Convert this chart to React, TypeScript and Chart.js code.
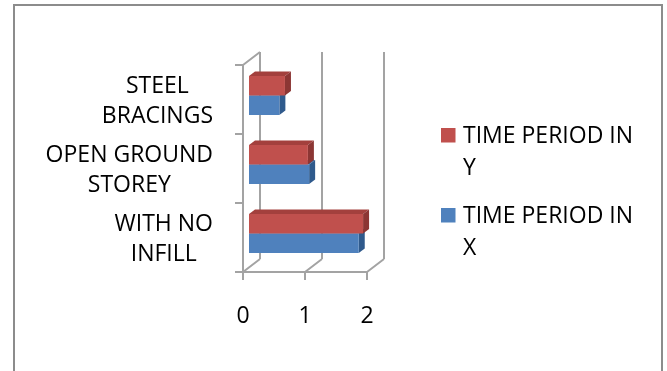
import { useEffect, useRef } from "react";
import { Chart, registerables } from "chart.js";

Chart.register(...registerables);

// ---- data ----
const categories: string[][] = [
  ["STEEL", "BRACINGS"],
  ["OPEN GROUND", "STOREY"],
  ["WITH NO", "INFILL"],
];
const seriesNames = ["TIME PERIOD IN Y", "TIME PERIOD IN X"];
const valuesY = [0.58, 0.95, 1.84];
const valuesX = [0.49, 0.97, 1.77];
const xTicks = [0, 1, 2];

// ---- styles ----
const frontColors = ["#C0504D", "#4F81BD"];
const topColors = ["#A3403D", "#3E6A9E"];
const sideColors = ["#8C3634", "#2F5A8C"];
const FONT = '23px "Open Sans"';
const LINE = "#A3A3A3";
const BAR_OFF = { dx: 6, dy: -4 };
const DEPTH = { dx: 6, dy: -4.5 };
const BACK = { dx: 17, dy: -13 };

function poly(ctx: CanvasRenderingContext2D, pts: number[][]) {
  ctx.beginPath();
  ctx.moveTo(pts[0][0], pts[0][1]);
  for (let i = 1; i < pts.length; i++) ctx.lineTo(pts[i][0], pts[i][1]);
  ctx.closePath();
  ctx.fill();
}

function wrap(ctx: CanvasRenderingContext2D, text: string, maxW: number) {
  const words = text.split(" ");
  const lines: string[] = [];
  let cur = "";
  for (const w of words) {
    const t = cur ? cur + " " + w : w;
    if (ctx.measureText(t).width > maxW && cur) {
      lines.push(cur);
      cur = w;
    } else cur = t;
  }
  if (cur) lines.push(cur);
  return lines;
}

const excel3d = {
  id: "excel3d",
  beforeDatasetsDraw(chart: any) {
    const ctx: CanvasRenderingContext2D = chart.ctx;
    const xs = chart.scales.x;
    const { left, top, bottom } = chart.chartArea;
    ctx.save();
    // outer border
    ctx.strokeStyle = "#8C8C8C";
    ctx.lineWidth = 2;
    ctx.strokeRect(14, 5, 648, 420);

    // walls and axes
    ctx.strokeStyle = LINE;
    ctx.lineWidth = 2;
    ctx.beginPath();
    xTicks.forEach((v) => {
      const px = xs.getPixelForValue(v);
      ctx.moveTo(px + BACK.dx, top + BACK.dy);
      ctx.lineTo(px + BACK.dx, bottom + BACK.dy);
      ctx.moveTo(px, bottom);
      ctx.lineTo(px + BACK.dx, bottom + BACK.dy);
      ctx.moveTo(px, bottom);
      ctx.lineTo(px, bottom + 8);
    });
    ctx.moveTo(left, top);
    ctx.lineTo(left, bottom);
    ctx.moveTo(left, top);
    ctx.lineTo(left + BACK.dx, top + BACK.dy);
    ctx.moveTo(left - 8, bottom);
    ctx.lineTo(xs.getPixelForValue(xTicks[xTicks.length - 1]), bottom);
    const n = categories.length;
    const band = (bottom - top) / n;
    for (let i = 0; i <= n; i++) {
      const y = top + i * band;
      ctx.moveTo(left - 8, y);
      ctx.lineTo(left, y);
    }
    ctx.stroke();

    // 3D faces of bars
    const nd = chart.data.datasets.length;
    for (let i = 0; i < n; i++) {
      for (let d = nd - 1; d >= 0; d--) {
        const el = chart.getDatasetMeta(d).data[i];
        const { x, y, base, height } = el.getProps(["x", "y", "base", "height"], true);
        const t = y - height / 2 + BAR_OFF.dy;
        const b = y + height / 2 + BAR_OFF.dy;
        const x0 = base + BAR_OFF.dx;
        const x1 = x + BAR_OFF.dx;
        ctx.fillStyle = topColors[d];
        poly(ctx, [
          [x0, t],
          [x1, t],
          [x1 + DEPTH.dx, t + DEPTH.dy],
          [x0 + DEPTH.dx, t + DEPTH.dy],
        ]);
        ctx.fillStyle = sideColors[d];
        poly(ctx, [
          [x1, t],
          [x1 + DEPTH.dx, t + DEPTH.dy],
          [x1 + DEPTH.dx, b + DEPTH.dy],
          [x1, b],
        ]);
      }
    }
    ctx.restore();
    ctx.save();
    ctx.translate(BAR_OFF.dx, BAR_OFF.dy);
  },
  afterDatasetsDraw(chart: any) {
    chart.ctx.restore();
  },
  afterDraw(chart: any) {
    const ctx: CanvasRenderingContext2D = chart.ctx;
    const xs = chart.scales.x;
    const ys = chart.scales.y;
    const { left, bottom } = chart.chartArea;
    ctx.save();
    ctx.font = FONT;
    ctx.fillStyle = "#000";
    ctx.textBaseline = "alphabetic";
    // x tick labels
    ctx.textAlign = "center";
    xTicks.forEach((v) => {
      ctx.fillText(String(v), xs.getPixelForValue(v), bottom + 51);
    });
    // category labels
    const lineH = 30;
    const capH = 16;
    categories.forEach((lines, i) => {
      const cy = ys.getPixelForValue(i);
      const widest = Math.max(...lines.map((l) => ctx.measureText(l).width));
      const cx = left - 30 - widest / 2;
      const blockH = (lines.length - 1) * lineH + capH;
      lines.forEach((l, k) => {
        ctx.fillText(l, cx, cy - blockH / 2 + capH + k * lineH + 0.5);
      });
    });
    // legend
    ctx.textAlign = "left";
    const lgX = 441;
    const firstBase = [142.5, 222.5];
    chart.data.datasets.forEach((ds: any, d: number) => {
      const lines = wrap(ctx, ds.label, 184);
      const b0 = firstBase[d];
      ctx.fillStyle = ds.backgroundColor;
      ctx.fillRect(lgX, b0 - 14.5, 14.5, 14.5);
      ctx.fillStyle = "#000";
      lines.forEach((l: string, k: number) => {
        ctx.fillText(l, lgX + 22, b0 + k * 32.5);
      });
    });
    ctx.restore();
  },
};

export default function App() {
  const ref = useRef<HTMLCanvasElement | null>(null);
  useEffect(() => {
    if (!ref.current) return;
    const chart = new Chart(ref.current, {
      type: "bar",
      data: {
        labels: categories as any,
        datasets: [
          {
            label: seriesNames[0],
            data: valuesY,
            backgroundColor: frontColors[0],
            categoryPercentage: 0.565,
            barPercentage: 1,
            clip: false as any,
          },
          {
            label: seriesNames[1],
            data: valuesX,
            backgroundColor: frontColors[1],
            categoryPercentage: 0.565,
            barPercentage: 1,
            clip: false as any,
          },
        ],
      },
      options: {
        indexAxis: "y",
        responsive: false,
        animation: false,
        devicePixelRatio: 1,
        layout: { padding: { left: 243, right: 300, top: 65, bottom: 99 } },
        plugins: { legend: { display: false }, tooltip: { enabled: false } },
        scales: {
          x: { display: false, min: 0, max: 2 },
          y: { display: false },
        },
      },
      plugins: [excel3d],
    });
    (document as any).fonts?.load?.(FONT).then(() => chart.draw()).catch(() => {});
    return () => chart.destroy();
  }, []);
  return (
    <div style={{ position: "fixed", left: 0, top: 0, width: 667, height: 371, background: "#fff" }}>
      <canvas ref={ref} width={667} height={371} style={{ display: "block", width: 667, height: 371 }} />
    </div>
  );
}
